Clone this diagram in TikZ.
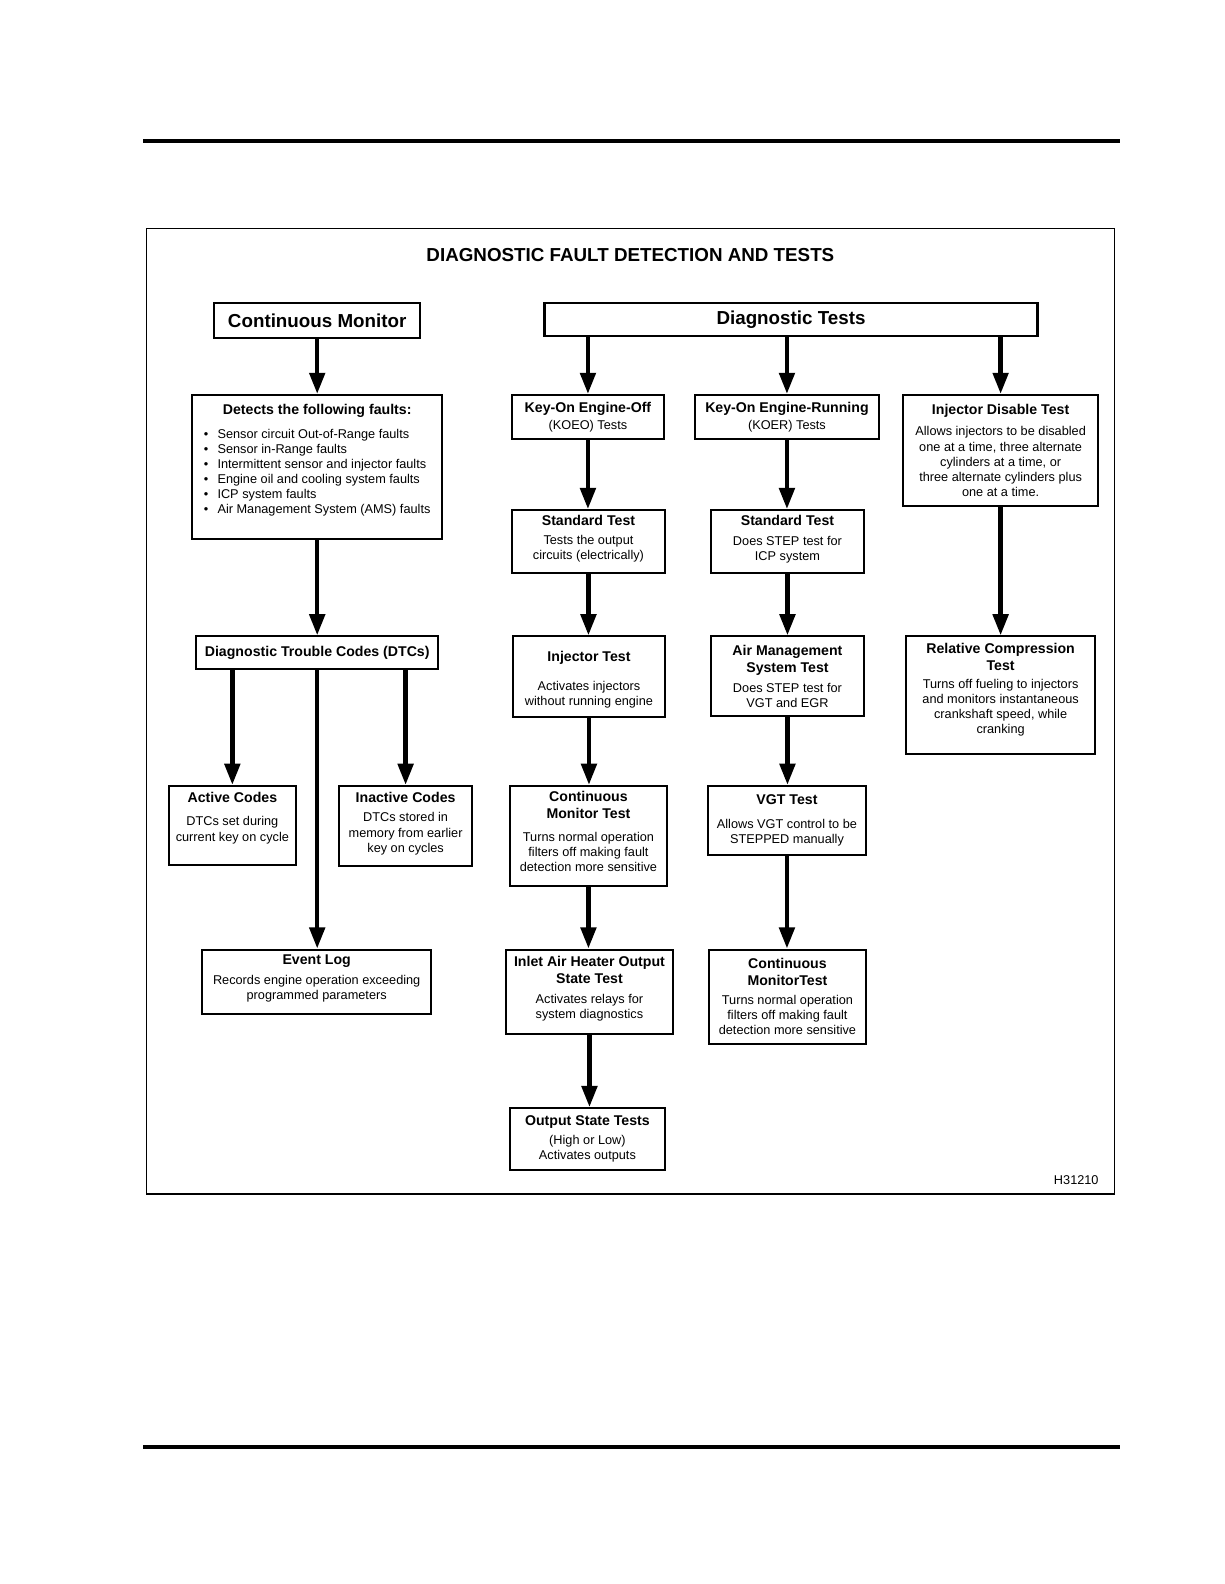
\documentclass[tikz,border=0pt]{standalone}
\usepackage{fontspec}
\setmainfont{Liberation Sans}
\usetikzlibrary{arrows.meta}
\newcommand{\hd}[1]{{\fontsize{14}{17}\selectfont\bfseries #1}}
\newcommand{\lift}[1]{\rule[-#1]{0pt}{#1}}

\begin{document}
\begin{tikzpicture}[x=1pt, y=-1pt,
    box/.style={draw, line width=2pt, inner sep=2pt, align=center,
      font=\fontsize{12.6}{15}\selectfont},
    flow/.style={-{Triangle[length=21pt,width=15pt]}, line width=4.5pt}]
  \useasboundingbox (0,0) rectangle (1212,1568);

  % column positions
  \def\colA{314}
  \def\colB{582}
  \def\colC{779}
  \def\colD{990.5}

  % page rules and frame
  \draw[line width=4pt] (142,140) -- (1109,140);
  \draw[line width=4pt] (142,1432) -- (1109,1432);
  \draw[line width=1.3pt] (145,226) rectangle (1103,1182);

  \node[font=\fontsize{18.6}{22}\selectfont\bfseries] (title) at (624,252)
    {DIAGNOSTIC FAULT DETECTION AND TESTS};
  \node[font=\fontsize{12.6}{15}\selectfont, anchor=east] (fig) at (1091,1168) {H31210};

  % left branch: continuous monitor
  \node[box, font=\fontsize{18.6}{22}\selectfont\bfseries, minimum width=204, minimum height=35]
    (cm) at (\colA,317.5) {Continuous Monitor};
  \node[box, minimum width=248, minimum height=143] (det) at (\colA,462.5)
    {\hd{Detects the following faults:}\\[8pt]
     \begin{tabular}[t]{@{}l@{\hspace{9pt}}l@{}}
       \textbullet & Sensor circuit Out-of-Range faults\\
       \textbullet & Sensor in-Range faults\\
       \textbullet & Intermittent sensor and injector faults\\
       \textbullet & Engine oil and cooling system faults\\
       \textbullet & ICP system faults\\
       \textbullet & Air Management System (AMS) faults\lift{16pt}
     \end{tabular}};
  \node[box, minimum width=240, minimum height=32] (dtc) at (\colA,646)
    {\hd{Diagnostic Trouble Codes (DTCs)}};
  \node[box, minimum width=126, minimum height=78] (act) at (230,817)
    {\hd{Active Codes}\\[8pt]DTCs set during\\current key on cycle\lift{17pt}};
  \node[box, minimum width=131, minimum height=79] (inact) at (401.5,817.5)
    {\hd{Inactive Codes}\\[4pt]DTCs stored in\\memory from earlier\\key on cycles\lift{7pt}};
  \node[box, minimum width=227, minimum height=64] (evt) at (313.5,972)
    {\hd{Event Log}\\[5pt]Records engine operation exceeding\\programmed parameters\lift{10pt}};

  % right branch: diagnostic tests
  \node[box, font=\fontsize{18.6}{22}\selectfont\bfseries, minimum width=488, minimum height=33]
    (dt) at (783,316.5) {Diagnostic Tests};

  % KOEO column
  \node[box, minimum width=150, minimum height=44] (koeo) at (\colB,413)
    {\hd{Key-On Engine-Off}\\[2pt](KOEO) Tests};
  \node[box, minimum width=151, minimum height=62] (std1) at (582.5,536)
    {\hd{Standard Test}\\[3pt]Tests the output\\circuits (electrically)\lift{8pt}};
  \node[box, minimum width=150, minimum height=80] (injt) at (583,670)
    {\hd{\rule{0pt}{16pt}Injector Test}\\[13pt]Activates injectors\\without running engine};
  \node[box, minimum width=155, minimum height=99] (cmt) at (582.5,827.5)
    {\hd{Continuous}\\[2pt]\hd{Monitor Test}\\[7pt]Turns normal operation\\filters off making fault\\detection more sensitive\lift{9pt}};
  \node[box, minimum width=165, minimum height=84] (inlet) at (583.5,982)
    {\hd{Inlet Air Heater Output}\\[2pt]\hd{State Test}\\[5pt]Activates relays for\\system diagnostics\lift{9pt}};
  \node[box, minimum width=153, minimum height=61] (out) at (581.5,1127.5)
    {\hd{Output State Tests}\\[4pt](High or Low)\\Activates outputs};

  % KOER column
  \node[box, minimum width=182, minimum height=44] (koer) at (\colC,413)
    {\hd{Key-On Engine-Running}\\[2pt](KOER) Tests};
  \node[box, minimum width=151, minimum height=62] (std2) at (779.5,536)
    {\hd{Standard Test}\\[4pt]Does STEP test for\\ICP system\lift{7pt}};
  \node[box, minimum width=151, minimum height=79] (air) at (779.5,669.5)
    {\hd{Air Management}\\[2pt]\hd{System Test}\\[5pt]Does STEP test for\\VGT and EGR};
  \node[box, minimum width=156, minimum height=68] (vgt) at (\colC,812)
    {\hd{VGT Test}\\[9pt]Allows VGT control to be\\STEPPED manually};
  \node[box, minimum width=155, minimum height=93] (cmt2) at (779.5,986.5)
    {\hd{Continuous}\\[2pt]\hd{MonitorTest}\\[4pt]Turns normal operation\\filters off making fault\\detection more sensitive};

  % injector disable column
  \node[box, minimum width=193, minimum height=110] (injd) at (\colD,446)
    {\hd{Injector Disable Test}\\[6pt]Allows injectors to be disabled\\one at a time, three alternate\\cylinders at a time, or\\three alternate cylinders plus\\one at a time.};
  \node[box, minimum width=187, minimum height=116] (rel) at (\colD,688)
    {\hd{Relative Compression}\\[2pt]\hd{Test}\\[3pt]Turns off fueling to injectors\\and monitors instantaneous\\crankshaft speed, while\\cranking\lift{13pt}};

  % connectors
  \draw[flow] (cm.south) -- (det.north);
  \draw[flow] (det.south) -- (dtc.north);
  \draw[flow] (act.north |- dtc.south) -- (act.north);
  \draw[flow] (inact.north |- dtc.south) -- (inact.north);
  \draw[flow] (dtc.south) -- (dtc.south |- evt.north);
  \foreach \t in {koeo, koer, injd}
    \draw[flow] (\t.north |- dt.south) -- (\t.north);
  \foreach \a/\b in {koeo/std1, std1/injt, injt/cmt, cmt/inlet, inlet/out,
                     koer/std2, std2/air, air/vgt, vgt/cmt2, injd/rel}
    \draw[flow] (\a.south) -- (\a.south |- \b.north);
\end{tikzpicture}
\end{document}
